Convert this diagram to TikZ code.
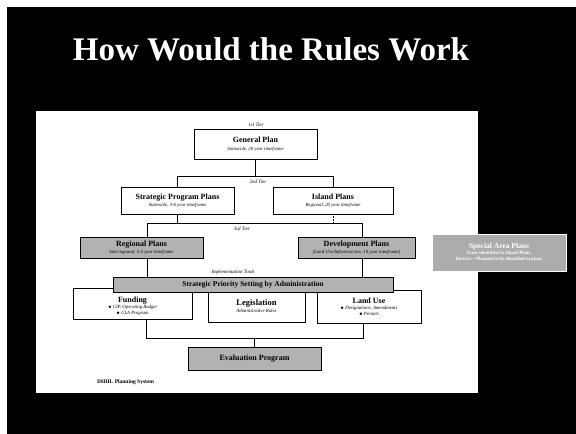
\documentclass[tikz,border=0pt]{standalone}
\usepackage{fontspec}
\setmainfont{Liberation Serif}
\begin{document}
\begin{tikzpicture}[x=1pt,y=-1pt,
  plainbox/.style={draw=black,line width=0.6pt,fill=white,inner sep=0pt,align=center,font=\fontsize{5}{6.5}\selectfont},
  graybox/.style={draw=black,line width=0.8pt,fill=gray!60,inner sep=0pt,align=center,font=\fontsize{5}{6.5}\selectfont},
  conn/.style={line width=0.8pt},
  tierlbl/.style={font=\fontsize{5}{6}\selectfont\itshape,inner sep=0pt},
]
\newcommand\hdtxt[1]{{\fontsize{8}{9}\selectfont\bfseries #1}}
\newcommand\subtxt[1]{{\fontsize{4.8}{5.5}\selectfont\itshape #1}}
\useasboundingbox (0,0) rectangle (576,434);
\fill[white] (0,0) rectangle (576,434);
\fill[black] (7,7) rectangle (576,434);
\node[text=white,font=\fontsize{33}{36}\selectfont\bfseries,inner sep=0pt] (title) at (271,49) {How Would the Rules Work};
\fill[white] (36,111) rectangle (478,393);

% tier labels
\node[tierlbl] (t1) at (256,125) {1st Tier};
\node[tierlbl] (t2) at (258,182) {2nd Tier};
\node[tierlbl] (t3) at (242,229) {3rd Tier};
\node[tierlbl] (t4) at (233,272) {Implementation Tools};

% boxes
\node[plainbox,minimum width=123,minimum height=30,font=\fontsize{5}{8}\selectfont] (gp) at (255.5,144)
  {\hdtxt{General Plan}\\\subtxt{Statewide, 20 year timeframe}};
\node[plainbox,minimum width=113,minimum height=27,font=\fontsize{5}{7.5}\selectfont] (spp) at (177.5,200.5)
  {\hdtxt{Strategic Program Plans}\\\subtxt{Statewide, 3-6 year timeframe}};
\node[plainbox,minimum width=120,minimum height=27,font=\fontsize{5}{7.5}\selectfont] (ip) at (333,200.5)
  {\hdtxt{Island Plans}\\\subtxt{Regional, 20 year timeframe}};
\node[graybox,minimum width=123,minimum height=21] (rp) at (141.5,247.5)
  {\hdtxt{Regional Plans}\\\subtxt{Sub-regional, 3-4 year timeframe}};
\node[graybox,minimum width=117,minimum height=21] (dp) at (356.5,247.5)
  {\hdtxt{Development Plans}\\\subtxt{(Land Use/Infrastructure, 10 year timeframe)}};
\node[graybox,draw=white,line width=1pt,fill=gray!65,text=white,minimum width=134,minimum height=37,font=\fontsize{4.8}{6}\selectfont\bfseries] (sap) at (499,252.5)
  {{\fontsize{7.5}{8.5}\selectfont Special Area Plans}\\Areas identified in Island Plans,\\District -- Planned to be identified in plans};

\node[plainbox,minimum width=119,minimum height=31,font=\fontsize{5}{6}\selectfont] (fund) at (132.5,303.5)
  {\hdtxt{\rule{0pt}{11pt}Funding}\\\subtxt{$\bullet$ CIP, Operating Budget}\\\subtxt{$\bullet$ CLA Program}};
\node[plainbox,minimum width=97,minimum height=32,font=\fontsize{5}{7.5}\selectfont] (leg) at (256.5,306)
  {{\fontsize{8.5}{10}\selectfont\bfseries Legislation}\\\subtxt{Administrative Rules}};
\node[plainbox,minimum width=104,minimum height=33,font=\fontsize{5}{6}\selectfont] (lu) at (369,306.5)
  {\hdtxt{Land Use}\\\subtxt{$\bullet$ Designations, Amendments}\\\subtxt{$\bullet$ Permits}};
\node[graybox,minimum width=280,minimum height=15] (sps) at (253,284.5)
  {{\fontsize{7.5}{8.5}\selectfont\bfseries Strategic Priority Setting by Administration}};
\node[graybox,minimum width=133,minimum height=23] (ep) at (254.5,358.5)
  {\hdtxt{Evaluation Program}};

\node[anchor=west,inner sep=0pt,font=\fontsize{5.5}{6}\selectfont\bfseries] (cap) at (97,382) {DHHL Planning System};

% connectors
\coordinate (j1) at (255.5,177);
\draw[conn] (gp.south) -- (j1);
\draw[conn] (spp.north) -- ++(0,-10) -| (ip.north);
\coordinate (j2) at (177.5,224);
\draw[conn] (spp.south) -- (j2);
\draw[line width=0.5pt,densely dotted] (ip.south) -- ++(0,10);
\draw[conn] ([xshift=5.5pt]rp.north) -- ++(0,-13) -| ([xshift=5.5pt]dp.north);
\draw[conn] ([xshift=5.5pt]rp.south) -- ([xshift=5.5pt]rp.south |- sps.north);
\draw[conn] ([xshift=5.5pt]dp.south) -- ([xshift=5.5pt]dp.south |- sps.north);
\draw[conn] ([xshift=13.5pt]fund.south) -- ++(0,19) -| ([xshift=-6pt]lu.south);
\coordinate (j3) at (254.5,338);
\draw[conn] (j3) -- (ep.north);
\end{tikzpicture}
\end{document}
